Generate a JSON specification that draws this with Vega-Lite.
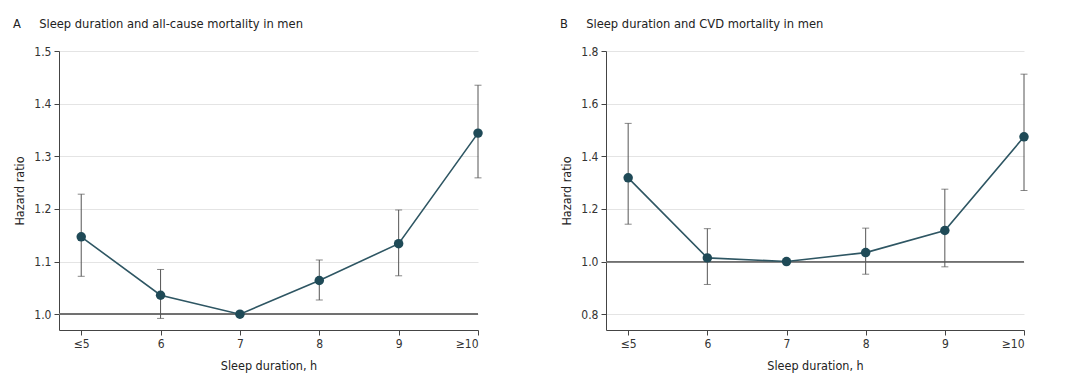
{
  "$schema": "https://vega.github.io/schema/vega-lite/v6.json",
  "background": "white",
  "padding": {"left": 13, "top": 18, "right": 10, "bottom": 6},
  "spacing": 77,
  "config": {
    "font": "'DejaVu Sans Condensed', Roboto, sans-serif",
    "view": {"stroke": null},
    "axis": {
      "labelFontSize": 12,
      "labelColor": "#333333",
      "titleFontSize": 12.5,
      "titleColor": "#222222",
      "titleFontWeight": "normal",
      "domainColor": "#444444",
      "tickColor": "#444444",
      "tickSize": 5,
      "labelPadding": 3,
      "gridColor": "#e4e4e4"
    },
    "title": {"fontSize": 12.8, "fontWeight": "normal", "color": "#222222", "anchor": "start", "offset": 14}
  },
  "datasets": {
    "a": [
      {"h": 5, "hr": 1.147, "lo": 1.072, "hi": 1.228},
      {"h": 6, "hr": 1.036, "lo": 0.992, "hi": 1.085},
      {"h": 7, "hr": 1.0, "lo": null, "hi": null},
      {"h": 8, "hr": 1.064, "lo": 1.027, "hi": 1.103},
      {"h": 9, "hr": 1.134, "lo": 1.073, "hi": 1.198},
      {"h": 10, "hr": 1.344, "lo": 1.259, "hi": 1.435}
    ],
    "b": [
      {"h": 5, "hr": 1.318, "lo": 1.142, "hi": 1.525},
      {"h": 6, "hr": 1.014, "lo": 0.913, "hi": 1.125},
      {"h": 7, "hr": 1.0, "lo": null, "hi": null},
      {"h": 8, "hr": 1.034, "lo": 0.952, "hi": 1.127},
      {"h": 9, "hr": 1.118, "lo": 0.98, "hi": 1.275},
      {"h": 10, "hr": 1.474, "lo": 1.27, "hi": 1.712}
    ]
  },
  "hconcat": [
    {
      "width": 419,
      "height": 279,
      "title": {"text": "A\u00a0\u00a0\u00a0\u00a0\u00a0Sleep duration and all-cause mortality in men"},
      "data": {"name": "a"},
      "layer": [
        {
          "mark": {"type": "rule", "color": "#707070", "strokeWidth": 1.2},
          "encoding": {
            "y": {"datum": 1, "type": "quantitative", "scale": {"domain": [0.97, 1.5], "nice": false, "zero": false},
                  "axis": {"title": "Hazard ratio", "values": [1.0, 1.1, 1.2, 1.3, 1.4, 1.5], "format": ".1f", "grid": true, "minExtent": 28, "maxExtent": 28, "titlePadding": 5}}
          }
        },
        {
          "mark": {"type": "rule", "color": "#555555", "strokeWidth": 1},
          "encoding": {
            "x": {"field": "h", "type": "quantitative", "scale": {"domain": [4.72, 10], "nice": false, "zero": false},
                  "axis": {"title": "Sleep duration, h", "values": [5, 6, 7, 8, 9, 10], "format": "d", "grid": false, "titlePadding": 10,
                           "labelExpr": "datum.value == 5 ? '≤5' : datum.value == 10 ? '≥10' : datum.label"}},
            "y": {"field": "lo", "type": "quantitative", "title": "Hazard ratio"},
            "y2": {"field": "hi"}
          }
        },
        {
          "mark": {"type": "tick", "orient": "horizontal", "size": 7, "thickness": 1, "color": "#555555"},
          "encoding": {
            "x": {"field": "h", "type": "quantitative"},
            "y": {"field": "lo", "type": "quantitative", "title": "Hazard ratio"}
          }
        },
        {
          "mark": {"type": "tick", "orient": "horizontal", "size": 7, "thickness": 1, "color": "#555555"},
          "encoding": {
            "x": {"field": "h", "type": "quantitative"},
            "y": {"field": "hi", "type": "quantitative", "title": "Hazard ratio"}
          }
        },
        {
          "mark": {"type": "line", "color": "#2e5663", "strokeWidth": 1.6},
          "encoding": {
            "x": {"field": "h", "type": "quantitative"},
            "y": {"field": "hr", "type": "quantitative", "title": "Hazard ratio"}
          }
        },
        {
          "mark": {"type": "point", "filled": true, "opacity": 1, "color": "#1f4a57", "size": 90},
          "encoding": {
            "x": {"field": "h", "type": "quantitative"},
            "y": {"field": "hr", "type": "quantitative", "title": "Hazard ratio"}
          }
        }
      ]
    },
    {
      "width": 418,
      "height": 279,
      "title": {"text": "B\u00a0\u00a0\u00a0\u00a0\u00a0Sleep duration and CVD mortality in men"},
      "data": {"name": "b"},
      "layer": [
        {
          "mark": {"type": "rule", "color": "#707070", "strokeWidth": 1.2},
          "encoding": {
            "y": {"datum": 1, "type": "quantitative", "scale": {"domain": [0.74, 1.8], "nice": false, "zero": false},
                  "axis": {"title": "Hazard ratio", "values": [0.8, 1.0, 1.2, 1.4, 1.6, 1.8], "format": ".1f", "grid": true, "minExtent": 28, "maxExtent": 28, "titlePadding": 5}}
          }
        },
        {
          "mark": {"type": "rule", "color": "#555555", "strokeWidth": 1},
          "encoding": {
            "x": {"field": "h", "type": "quantitative", "scale": {"domain": [4.72, 10], "nice": false, "zero": false},
                  "axis": {"title": "Sleep duration, h", "values": [5, 6, 7, 8, 9, 10], "format": "d", "grid": false, "titlePadding": 10,
                           "labelExpr": "datum.value == 5 ? '≤5' : datum.value == 10 ? '≥10' : datum.label"}},
            "y": {"field": "lo", "type": "quantitative", "title": "Hazard ratio"},
            "y2": {"field": "hi"}
          }
        },
        {
          "mark": {"type": "tick", "orient": "horizontal", "size": 7, "thickness": 1, "color": "#555555"},
          "encoding": {
            "x": {"field": "h", "type": "quantitative"},
            "y": {"field": "lo", "type": "quantitative", "title": "Hazard ratio"}
          }
        },
        {
          "mark": {"type": "tick", "orient": "horizontal", "size": 7, "thickness": 1, "color": "#555555"},
          "encoding": {
            "x": {"field": "h", "type": "quantitative"},
            "y": {"field": "hi", "type": "quantitative", "title": "Hazard ratio"}
          }
        },
        {
          "mark": {"type": "line", "color": "#2e5663", "strokeWidth": 1.6},
          "encoding": {
            "x": {"field": "h", "type": "quantitative"},
            "y": {"field": "hr", "type": "quantitative", "title": "Hazard ratio"}
          }
        },
        {
          "mark": {"type": "point", "filled": true, "opacity": 1, "color": "#1f4a57", "size": 90},
          "encoding": {
            "x": {"field": "h", "type": "quantitative"},
            "y": {"field": "hr", "type": "quantitative", "title": "Hazard ratio"}
          }
        }
      ]
    }
  ]
}
